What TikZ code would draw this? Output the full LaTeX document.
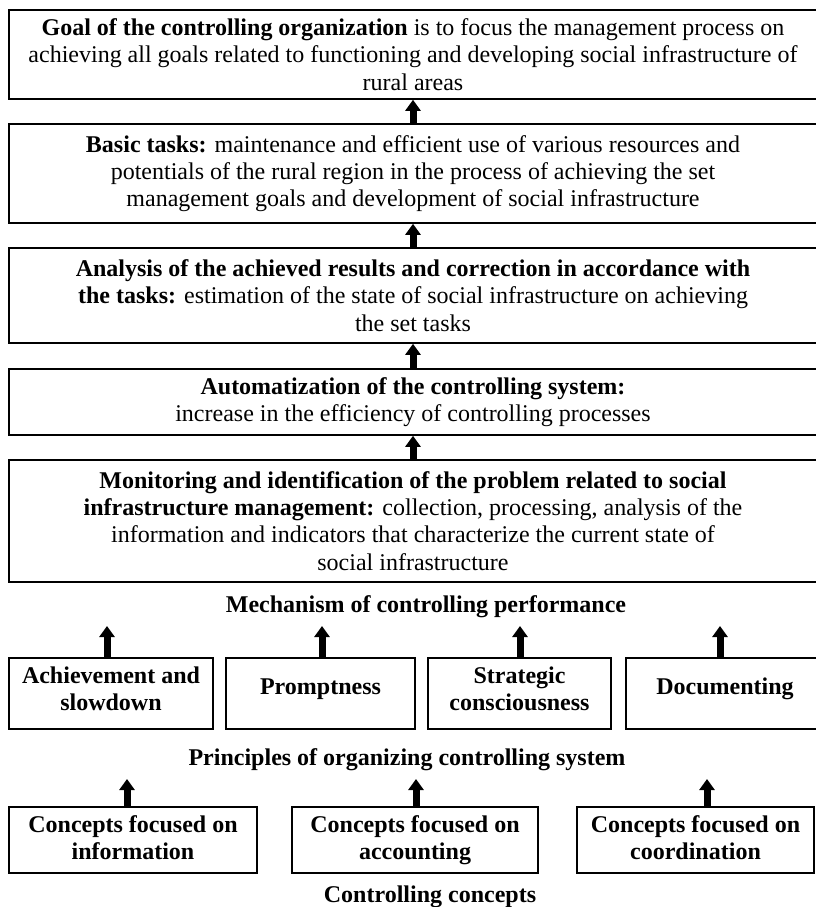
\documentclass[tikz,border=0pt]{standalone}
\usepackage{fontspec}
\setmainfont{Liberation Serif}
\usetikzlibrary{arrows.meta}
% extra depth under the last line, to set a label a little above the middle of its box
\newcommand\sinkby[1]{\rule[-#1]{0pt}{0pt}}
\begin{document}
\begin{tikzpicture}[x=1pt,y=-1pt,
  box/.style={draw=black, line width=1.6pt, inner sep=0pt, align=center,
    font=\fontsize{24}{27.3}\selectfont},
  bbox/.style={box, font=\fontsize{24}{27.3}\selectfont\bfseries},
  caption/.style={inner sep=0pt, align=center, font=\fontsize{24}{27.3}\selectfont\bfseries},
  up/.style={line width=7pt, -{Triangle[width=15pt,length=11pt]}}]
\useasboundingbox[fill=white] (0,0) rectangle (815,907);

% chain of stages, bottom to top
\node[box, minimum width=808pt, minimum height=89pt] (goal) at (413,54.5)
  {\textbf{Goal of the controlling organization} is to focus the management process on\\
   achieving all goals related to functioning and developing social infrastructure of\\
   rural areas};
\node[box, minimum width=808pt, minimum height=99pt] (tasks) at (413,173.5)
  {\textbf{Basic tasks:} maintenance and efficient use of various resources and\\
   potentials of the rural region in the process of achieving the set\\
   management goals and development of social infrastructure};
\node[box, minimum width=808pt, minimum height=95pt] (analysis) at (413,295.5)
  {\textbf{Analysis of the achieved results and correction in accordance with}\\
   \textbf{the tasks:} estimation of the state of social infrastructure on achieving\\
   the set tasks};
\node[box, minimum width=808pt, minimum height=66pt] (auto) at (413,402)
  {\textbf{Automatization of the controlling system:}\\
   increase in the efficiency of controlling processes};
\node[box, minimum width=808pt, minimum height=122pt] (monitor) at (413,521)
  {\textbf{Monitoring and identification of the problem related to social}\\
   \textbf{infrastructure management:} collection, processing, analysis of the\\
   information and indicators that characterize the current state of\\
   social infrastructure};

\draw[up] (tasks.north) -- (goal.south);
\draw[up] (analysis.north) -- (tasks.south);
\draw[up] (auto.north) -- (analysis.south);
\draw[up] (monitor.north) -- (auto.south);

% mechanism level
\node[caption] (mech) at (426,607) {Mechanism of controlling performance};
\node[bbox, minimum width=204pt, minimum height=71pt] (pa) at (111,693.5) {Achievement and\\slowdown\sinkby{10pt}};
\node[bbox, minimum width=189pt, minimum height=71pt] (pb) at (320.5,693.5) {Promptness\sinkby{14pt}};
\node[bbox, minimum width=183pt, minimum height=71pt] (pc) at (519.5,693.5) {Strategic\\consciousness\sinkby{10pt}};
\node[bbox, minimum width=198pt, minimum height=71pt] (pd) at (725,693.5) {Documenting\sinkby{14pt}};
\coordinate (ta) at (107,626);
\coordinate (tb) at (322,626);
\coordinate (tc) at (520,626);
\coordinate (td) at (720,626);
\draw[up] (pa.north -| ta) -- (ta);
\draw[up] (pb.north -| tb) -- (tb);
\draw[up] (pc.north -| tc) -- (tc);
\draw[up] (pd.north -| td) -- (td);

% principles level
\node[caption] (princ) at (407,760) {Principles of organizing controlling system};
\node[bbox, minimum width=248pt, minimum height=66pt] (ca) at (133,840) {Concepts focused on\\information\sinkby{5.5pt}};
\node[bbox, minimum width=246pt, minimum height=66pt] (cb) at (415,840) {Concepts focused on\\accounting\sinkby{5.5pt}};
\node[bbox, minimum width=237pt, minimum height=66pt] (cc) at (695.5,840) {Concepts focused on\\coordination\sinkby{5.5pt}};
\coordinate (sa) at (127,779);
\coordinate (sb) at (416,779);
\coordinate (sc) at (707,779);
\draw[up] (ca.north -| sa) -- (sa);
\draw[up] (cb.north -| sb) -- (sb);
\draw[up] (cc.north -| sc) -- (sc);

\node[caption] (concepts) at (430,897) {Controlling concepts};
\end{tikzpicture}
\end{document}
